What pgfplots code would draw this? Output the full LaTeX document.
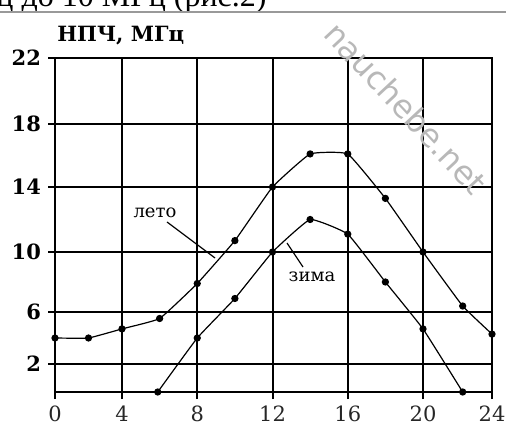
\documentclass[border=0pt]{standalone}
\usepackage{fontspec}
\setmainfont{DejaVu Serif}
\newfontfamily\topfont{Liberation Serif}
\newfontfamily\wmfont{DejaVu Sans}
\usepackage{pgfplots}
\pgfplotsset{compat=1.18}

% hours vs. frequency, summer and winter
\pgfplotstableread{
x y
0 4.0
2 4.0
4 4.7
6 5.5
8 7.9
10 10.7
12 14.0
14 16.1
16 16.1
18 13.3
20 10.0
22.3 6.4
24 4.3
}\leto
\pgfplotstableread{
x y
5.9 0.0
8 4.0
10 6.9
12 10.0
14 12.0
16 11.1
18 8.0
20 4.7
22.3 0.0
}\zima

\begin{document}
\begin{tikzpicture}[x=1pt,y=1pt]
\begin{axis}[
  name=ax,
  scale only axis, width=218.5pt, height=167pt,
  % the grid of the original is not evenly spaced
  x coord trafo/.code={\pgfmathparse{ifthenelse(#1<4, 16.75*#1, ifthenelse(#1<20, 67+(#1-4)*18.8125, 368+(#1-20)*17.25))}},
  y coord trafo/.code={\pgfmathparse{ifthenelse(#1<2, 14*#1, ifthenelse(#1<6, 28+(#1-2)*13, ifthenelse(#1<10, 80+(#1-6)*15, ifthenelse(#1<14, 140+(#1-10)*16.25, ifthenelse(#1<18, 205+(#1-14)*15.75, 268+(#1-18)*16.5)))))}},
  xmin=0, xmax=24, ymin=0, ymax=22,
  enlargelimits=false,
  xtick={0,4,8,12,16,20,24},
  xticklabels={0,4,8,12,16,20,24},
  ytick={2,6,10,14,18,22},
  yticklabels={2,6,10,14,18,22},
  tick pos=left, tick align=outside,
  major tick length=3.5pt,
  grid=major,
  major grid style={black, line width=1pt},
  axis line style={black, line width=1pt},
  tick style={black, line width=1pt},
  xticklabel style={font=\fontsize{10.5}{12}\selectfont, text=black!85},
  yticklabel style={font=\bfseries\fontsize{10.5}{12}\selectfont},
]
\addplot[black, line width=0.6pt, smooth, tension=0.2, mark=*, mark size=1.5pt] table {\leto};
\addplot[black, line width=0.6pt, smooth, tension=0.2, mark=*, mark size=1.5pt] table {\zima};
\end{axis}

\begin{scope}[shift={(ax.south west)}, xshift=-27.5pt, yshift=-17pt]
  \begin{scope}
    \clip (0,0) rectangle (253,213);
    \node[anchor=base east, inner sep=0, font=\topfont\fontsize{16}{16}\selectfont] at (133.5,209.5) {ц до 10 МГц (рис.2)};
  \end{scope}
  \draw[black!40, line width=0.8pt] (0,207) -- (253,207);
  \node[anchor=west, inner sep=0, font=\bfseries\fontsize{10.5}{10.5}\selectfont] at (28.5,195) {НПЧ, МГц};
  \node[font=\fontsize{9}{9}\selectfont] at (77.5,106.5) {лето};
  \draw[line width=0.6pt] (83.5,102) -- (107.5,84);
  \node[font=\fontsize{9}{9}\selectfont] at (156,74.5) {зима};
  \draw[line width=0.6pt] (143.5,91.5) -- (151.5,79.5);
  \node[rotate=-47, text=black!28, font=\wmfont\fontsize{16}{16}\selectfont] at (203,159) {nauchebe.net};
  \pgfresetboundingbox
  \path[use as bounding box] (0,0) rectangle (253,213);
\end{scope}
\end{tikzpicture}
\end{document}
